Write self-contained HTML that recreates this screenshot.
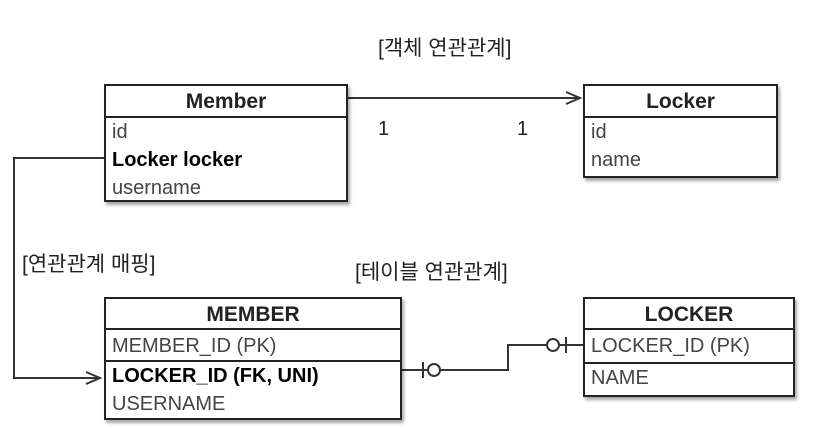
<!DOCTYPE html>
<html><head><meta charset="utf-8"><style>
body{margin:0;width:832px;height:428px;background:#fff;position:relative;overflow:hidden;font-family:"Liberation Sans","Noto Sans CJK KR",sans-serif;color:#222}
.t{position:absolute;white-space:nowrap}
.box{position:absolute;border:2px solid #222;background:#fff;box-shadow:2px 3px 3px rgba(0,0,0,.35);box-sizing:border-box}
.hd{border-bottom:2px solid #222;text-align:center;font-size:21px;font-weight:bold;height:32px;line-height:32px;box-sizing:border-box}
.r{font-size:20px;line-height:28px;padding-left:6px;color:#444}
.b{color:#000;font-weight:bold}
</style></head><body>
<svg width="832" height="428" style="position:absolute;left:0;top:0">
<g stroke="#333" stroke-width="2" fill="none">
<line x1="348" y1="98" x2="580" y2="98"/>
<polyline points="566,92 580,98 566,104"/>
<polyline points="104,158 14,158 14,378 100,378"/>
<polyline points="86,372 100,378 86,384"/>
<polyline points="402,370 508,370 508,345 583,345"/>
<line x1="423" y1="362" x2="423" y2="378"/>
<circle cx="434" cy="370" r="6" fill="#fff"/>
<circle cx="553" cy="345" r="6" fill="#fff"/>
<line x1="566" y1="337" x2="566" y2="353"/>
</g></svg>
<div class="t" style="left:378px;top:32px;font-size:21px">[객체 연관관계]</div>
<div class="t" style="left:378px;top:118px;font-size:20px">1</div>
<div class="t" style="left:517px;top:118px;font-size:20px">1</div>
<div class="t" style="left:22px;top:248px;font-size:21px">[연관관계 매핑]</div>
<div class="t" style="left:355px;top:256px;font-size:21px">[테이블 연관관계]</div>
<div class="box" style="left:104px;top:84px;width:244px;height:118px">
<div class="hd">Member</div>
<div class="r">id</div><div class="r b">Locker locker</div><div class="r">username</div></div>
<div class="box" style="left:583px;top:84px;width:195px;height:94px">
<div class="hd">Locker</div>
<div class="r">id</div><div class="r">name</div></div>
<div class="box" style="left:104px;top:297px;width:298px;height:123px">
<div class="hd" style="height:31px;line-height:31px">MEMBER</div>
<div class="r" style="border-bottom:2px solid #222;height:32px;line-height:32px;box-sizing:border-box">MEMBER_ID (PK)</div>
<div class="r b">LOCKER_ID (FK, UNI)</div><div class="r">USERNAME</div></div>
<div class="box" style="left:583px;top:297px;width:212px;height:100px">
<div class="hd" style="height:31px;line-height:31px">LOCKER</div>
<div class="r" style="border-bottom:2px solid #222;height:34px;line-height:32px;box-sizing:border-box">LOCKER_ID (PK)</div>
<div class="r">NAME</div></div>
</body></html>
